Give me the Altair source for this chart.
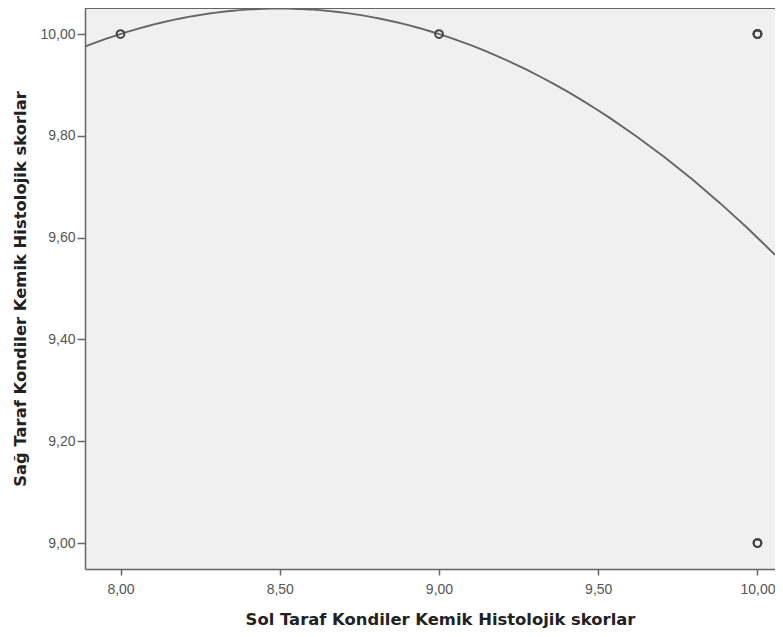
import altair as alt
import pandas as pd

# Data (overlapping points repeated)
sol = [8.0, 9.0, 10.0, 10.0, 10.0, 10.0, 10.0]
sag = [10.0, 10.0, 10.0, 10.0, 10.0, 9.0, 9.0]

x_ticks = [8.0, 8.5, 9.0, 9.5, 10.0]
y_ticks = [9.0, 9.2, 9.4, 9.6, 9.8, 10.0]
x_domain = [7.8885, 10.055]
y_domain = [8.949, 10.0511]

x_title = "Sol Taraf Kondiler Kemik Histolojik skorlar"
y_title = "Sağ Taraf Kondiler Kemik Histolojik skorlar"

df = pd.DataFrame({"x": sol, "y": sag})

W, H = 690, 561
LFONT = "Liberation Sans"
TFONT = "DejaVu Sans"
lab_expr = "replace(format(datum.value, '.2f'), '.', ',')"

xenc = alt.X("x:Q", scale=alt.Scale(domain=x_domain, nice=False, zero=False),
             axis=alt.Axis(values=x_ticks, labelExpr=lab_expr, title=x_title,
                           grid=False, domainColor="#666", domainWidth=1.5,
                           tickColor="#666", tickWidth=1.5, tickSize=6,
                           labelFont=LFONT, labelFontSize=14, labelColor="#555",
                           labelPadding=7,
                           titleFont=TFONT, titleFontSize=16.4, titleFontWeight="bold",
                           titleColor="#222", titleX=355, titleY=50,
                           titleBaseline="middle", titleAlign="center"))
yenc = alt.Y("y:Q", scale=alt.Scale(domain=y_domain, nice=False, zero=False),
             axis=alt.Axis(values=y_ticks, labelExpr=lab_expr, title=y_title,
                           grid=False, domainColor="#666", domainWidth=1.5,
                           tickColor="#666", tickWidth=1.5, tickSize=8,
                           labelFont=LFONT, labelFontSize=14, labelColor="#555",
                           labelPadding=2,
                           titleFont=TFONT, titleFontSize=16.4, titleFontWeight="bold",
                           titleColor="#222", titleX=-65, titleY=H / 2,
                           titleAngle=-90, titleBaseline="middle", titleAlign="center"))

base = alt.Chart(df)

points = base.mark_point(shape="circle", filled=False, size=60, strokeWidth=2,
                         color="#444", opacity=1).encode(x=xenc, y=yenc)

fit = base.transform_regression("x", "y", method="poly", order=2,
                                extent=x_domain).mark_line(
    color="#666", strokeWidth=1.9, clip=True).encode(x="x:Q", y="y:Q")

top_border = alt.Chart(df).mark_rule(color="#666", strokeWidth=1.5).encode(
    x=alt.value(0), x2=alt.value(W), y=alt.value(0))

chart = alt.layer(fit, points, top_border).properties(
    width=W, height=H,
    autosize=alt.AutoSizeParams(type="none"),
    padding={"left": 77, "top": 0, "right": 0, "bottom": 59},
    background="white",
).configure_view(fill="#f0f0f0", stroke=None)

chart.save("out.html", embed_options={"renderer": "svg", "actions": False})
